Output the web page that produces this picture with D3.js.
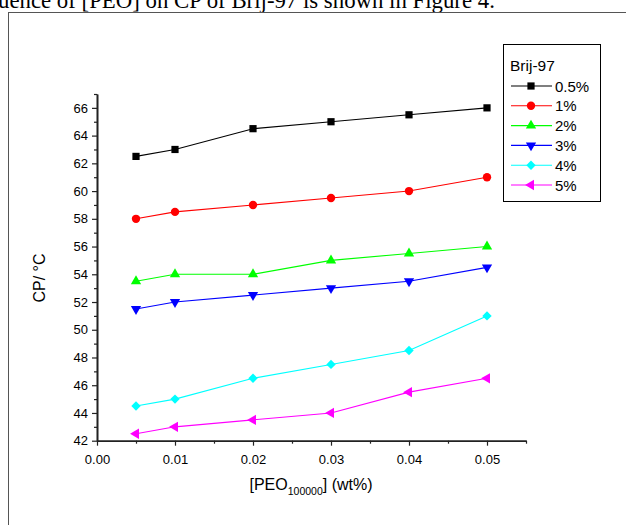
<!DOCTYPE html>
<html>
<head>
<meta charset="utf-8">
<script src="https://cdn.jsdelivr.net/npm/d3@7"></script>
<style>
  body { margin: 0; background: #fff; }
  svg { display: block; }
  .axis path, .axis line { stroke: #222; }
  .axis path { stroke-width: 1.6; }
  .axis line { stroke-width: 1.2; }
  .axis text { font-family: "Liberation Sans", Arial, sans-serif; font-size: 13px; fill: #000; }
</style>
</head>
<body>
<div id="chart"></div>
<script>
// PEO concentration (wt%)
const peo = [0.005, 0.01, 0.02, 0.03, 0.04, 0.05];
const seriesNames = ['0.5%', '1%', '2%', '3%', '4%', '5%'];
const cp05 = [62.5, 63, 64.5, 65, 65.5, 66];
const cp1 = [58, 58.5, 59, 59.5, 60, 61];
const cp2 = [53.5, 54, 54, 55, 55.5, 56];
const cp3 = [51.5, 52, 52.5, 53, 53.5, 54.5];
const cp4 = [44.5, 45, 46.5, 47.5, 48.5, 51];
const cp5 = [42.5, 43, 43.5, 44, 45.5, 46.5];
const xMajor = [0, 0.01, 0.02, 0.03, 0.04, 0.05];
const xMinor = [0.005, 0.015, 0.025, 0.035, 0.045, 0.055];
const yMajor = [42, 44, 46, 48, 50, 52, 54, 56, 58, 60, 62, 64, 66];
const yMinor = [43, 45, 47, 49, 51, 53, 55, 57, 59, 61, 63, 65, 67];

const W = 626, H = 525;
const colors = ['#000000', '#ff0000', '#00ff00', '#0000ff', '#00ffff', '#ff00ff'];
const symbols = [
    { type: d3.symbolSquare, size: 52, rot: 0 },
    { type: d3.symbolCircle, size: 55, rot: 0 },
    { type: d3.symbolTriangle, size: 46, rot: 0 },
    { type: d3.symbolTriangle, size: 46, rot: 180 },
    { type: d3.symbolSquare, size: 44, rot: 45 },
    { type: d3.symbolTriangle, size: 46, rot: -90 }
];
const allSeries = [cp05, cp1, cp2, cp3, cp4, cp5].map((vals, i) => ({
    name: seriesNames[i],
    color: colors[i],
    sym: symbols[i],
    points: vals.map((v, j) => ({ x: peo[j], y: v }))
}));

const svg = d3.select('#chart').append('svg')
    .attr('width', W).attr('height', H);

// Document text cut off above the figure
svg.append('text')
    .attr('x', -2).attr('y', 8)
    .attr('font-family', '"Liberation Serif", "Times New Roman", serif')
    .attr('font-size', 22.8)
    .text('uence of [PEO] on CP of Brij-97 is shown in Figure 4.');

// Figure frame
svg.append('rect')
    .attr('x', 8.5).attr('y', 12.5)
    .attr('width', 640).attr('height', 540)
    .attr('fill', 'none').attr('stroke', '#555').attr('stroke-width', 1);

const x = d3.scaleLinear().domain([0, 0.055]).range([97, 526]);
const y = d3.scaleLinear().domain([42, 67]).range([440.7, 94]);

// Axes
svg.append('g').attr('class', 'axis')
    .attr('transform', `translate(0,${y(42)})`)
    .call(d3.axisBottom(x).tickValues(xMinor).tickSize(3).tickSizeOuter(0).tickFormat(''));
svg.append('g').attr('class', 'axis')
    .attr('transform', `translate(0,${y(42)})`)
    .call(d3.axisBottom(x).tickValues(xMajor).tickSize(5).tickSizeOuter(0).tickPadding(9)
        .tickFormat(d3.format('.2f')));
svg.append('g').attr('class', 'axis')
    .attr('transform', `translate(${x(0)},0)`)
    .call(d3.axisLeft(y).tickValues(yMinor).tickSize(3).tickSizeOuter(0).tickFormat(''));
svg.append('g').attr('class', 'axis')
    .attr('transform', `translate(${x(0)},0)`)
    .call(d3.axisLeft(y).tickValues(yMajor).tickSize(5).tickSizeOuter(0).tickPadding(4)
        .tickFormat(d3.format('d')));

// Axis titles
const xt = svg.append('text')
    .attr('x', 311).attr('y', 490)
    .attr('text-anchor', 'middle')
    .attr('font-family', '"Liberation Sans", Arial, sans-serif')
    .attr('font-size', 16);
xt.append('tspan').text('[PEO');
xt.append('tspan').attr('font-size', 10.5).attr('dy', 5).text('100000');
xt.append('tspan').attr('dy', -5).text('] (wt%)');

svg.append('text')
    .attr('transform', 'translate(45,278) rotate(-90)')
    .attr('text-anchor', 'middle')
    .attr('font-family', '"Liberation Sans", Arial, sans-serif')
    .attr('font-size', 16)
    .text('CP/ °C');

// Lines
const line = d3.line().x(d => x(d.x)).y(d => y(d.y));
svg.append('g').selectAll('path')
    .data(allSeries)
    .enter().append('path')
    .attr('fill', 'none')
    .attr('stroke', d => d.color)
    .attr('stroke-width', 1.1)
    .attr('d', d => line(d.points));

// Markers
allSeries.forEach(s => {
    svg.append('g').selectAll('path')
        .data(s.points)
        .enter().append('path')
        .attr('d', d3.symbol().type(s.sym.type).size(s.sym.size))
        .attr('transform', d => `translate(${x(d.x)},${y(d.y)}) rotate(${s.sym.rot})`)
        .attr('fill', s.color);
});

// Legend
const lg = svg.append('g');
lg.append('rect')
    .attr('x', 503.5).attr('y', 44.5).attr('width', 97).attr('height', 157)
    .attr('fill', '#fff').attr('stroke', '#000').attr('stroke-width', 1);
lg.append('text')
    .attr('x', 510).attr('y', 71)
    .attr('font-family', '"Liberation Sans", Arial, sans-serif')
    .attr('font-size', 15.5)
    .text('Brij-97');
const items = lg.selectAll('g.item')
    .data(allSeries)
    .enter().append('g')
    .attr('class', 'item')
    .attr('transform', (d, i) => `translate(0,${86 + i * 19.8})`);
items.append('line')
    .attr('x1', 511).attr('x2', 552)
    .attr('stroke', d => d.color).attr('stroke-width', 1.1);
items.append('path')
    .attr('d', d => d3.symbol().type(d.sym.type).size(d.sym.size)())
    .attr('transform', d => `translate(531,0) rotate(${d.sym.rot})`)
    .attr('fill', d => d.color);
items.append('text')
    .attr('x', 555).attr('y', 5.5)
    .attr('font-family', '"Liberation Sans", Arial, sans-serif')
    .attr('font-size', 15)
    .text(d => d.name);
</script>
</body>
</html>
